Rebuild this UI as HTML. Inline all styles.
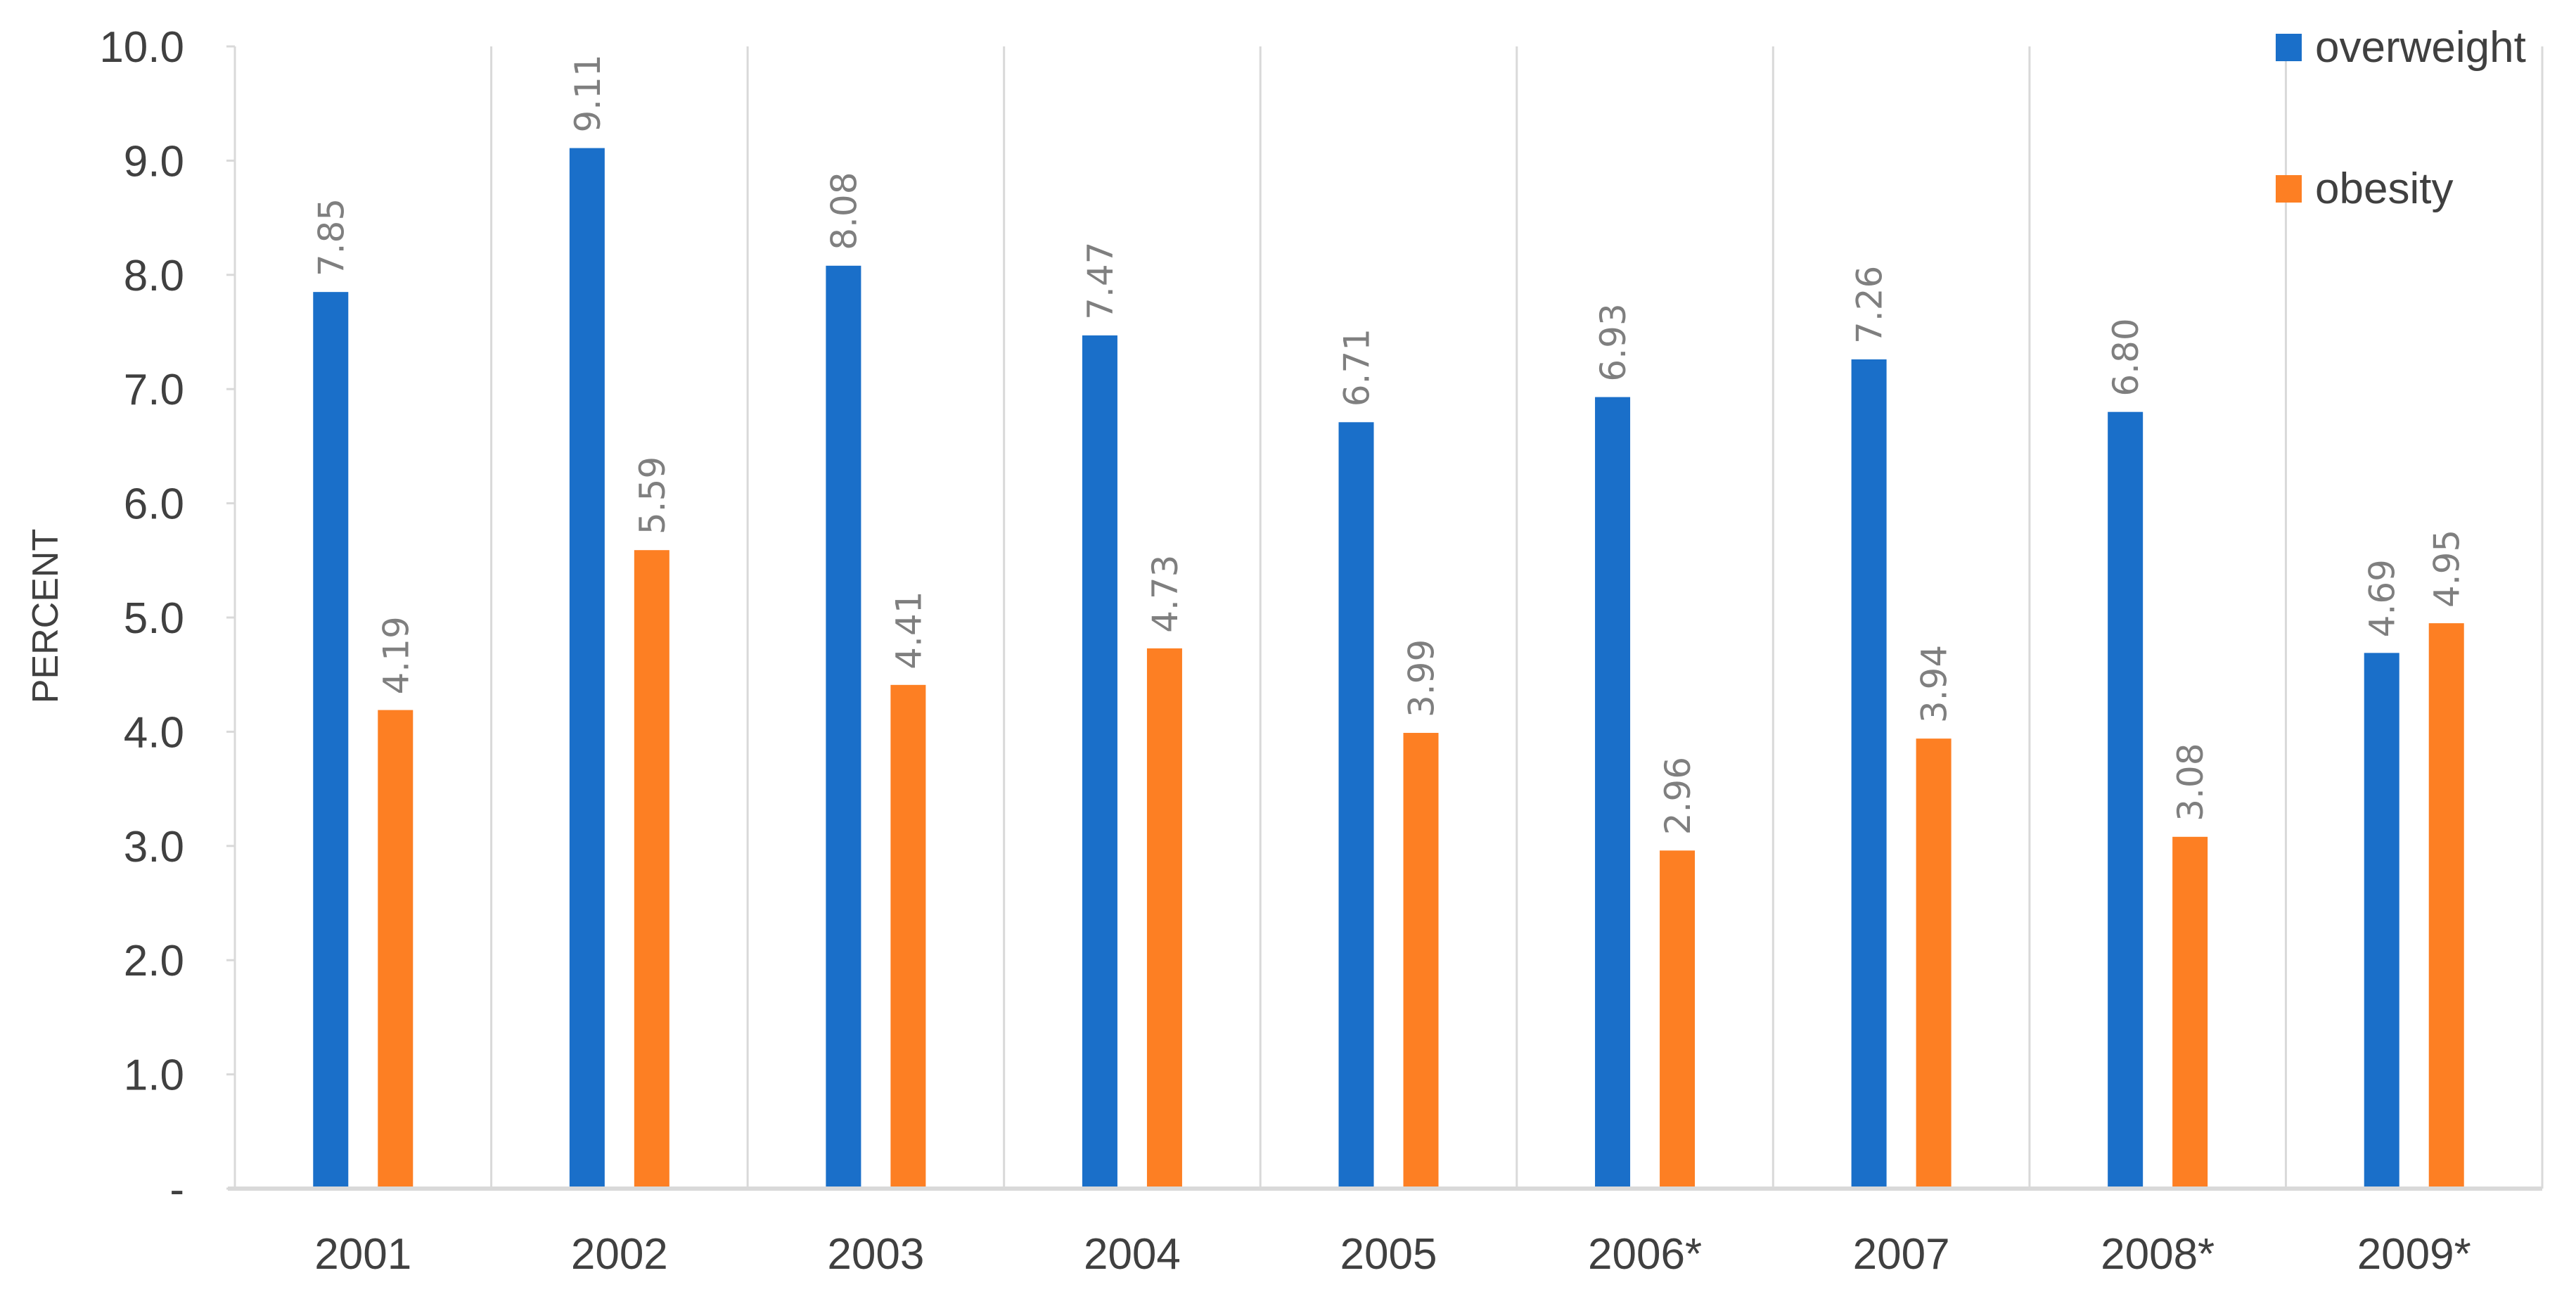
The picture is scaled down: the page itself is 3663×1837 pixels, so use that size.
<!DOCTYPE html>
<html><head><meta charset="utf-8">
<style>
html,body{margin:0;padding:0;background:#fff;}
svg{display:block;}
</style></head>
<body>
<svg id="chart" width="3663" height="1837" viewBox="0 0 3663 1837" xmlns="http://www.w3.org/2000/svg">
<g id="grid"></g>
<g id="yaxis"></g>
<g id="bars"></g>
<g id="xaxis"></g>
<text x="0" y="0" transform="translate(82,876) rotate(-90)" text-anchor="middle" font-family="Liberation Sans, sans-serif" font-size="52" fill="#404040">PERCENT</text>
<g>
  <g>
    <rect x="3236" y="48" width="37" height="39" fill="#1a6fc9"></rect>
    <text x="3292" y="88" font-family="Liberation Sans, sans-serif" font-size="62" fill="#404040">overweight</text>
  </g>
  <g>
    <rect x="3236" y="249" width="37" height="39" fill="#fd7f23"></rect>
    <text x="3292" y="289" font-family="Liberation Sans, sans-serif" font-size="62" fill="#404040">obesity</text>
  </g>
</g>
</svg>
<script>
const categories = ["2001","2002","2003","2004","2005","2006*","2007","2008*","2009*"];
const overweight = [7.85,9.11,8.08,7.47,6.71,6.93,7.26,6.80,4.69];
const obesity = [4.19,5.59,4.41,4.73,3.99,2.96,3.94,3.08,4.95];
const yTicks = [0,1,2,3,4,5,6,7,8,9,10];
const yTickLabels = ["-","1.0","2.0","3.0","4.0","5.0","6.0","7.0","8.0","9.0","10.0"];

const NS = "http://www.w3.org/2000/svg";
const plotLeft = 334, plotRight = 3615, plotTop = 66, plotBottom = 1690, yMax = 10;
const band = (plotRight - plotLeft) / categories.length;
function yScale(v){ return plotBottom - (v / yMax) * (plotBottom - plotTop); }
function xc(i){ return plotLeft + band * (i + 0.5); }
function mk(tag, attrs, parent){
  const e = document.createElementNS(NS, tag);
  for (const k in attrs) e.setAttribute(k, attrs[k]);
  parent.appendChild(e); return e;
}
const gridG = document.getElementById("grid");
const yaxisG = document.getElementById("yaxis");
const barsG = document.getElementById("bars");
const xaxisG = document.getElementById("xaxis");

for (let i = 0; i <= categories.length; i++) {
  const gx = plotLeft + band * i;
  const l = mk("line", {x1: gx, x2: gx, y1: plotTop, y2: plotBottom, stroke: "#d9d9d9", "stroke-width": 3}, gridG);
  
  
}
yTicks.forEach((t, i) => {
  const tk = mk("line", {x1: plotLeft - 12, x2: plotLeft, y1: yScale(t), y2: yScale(t), stroke: "#d9d9d9", "stroke-width": 3}, yaxisG);
  
  
  const tx = mk("text", {x: 262, y: yScale(t) + 22, "text-anchor": "end", "font-family": "Liberation Sans, sans-serif", "font-size": 62, fill: "#404040"}, yaxisG);
  tx.textContent = yTickLabels[i];
  
  
});
const base = mk("line", {x1: plotLeft - 10, x2: plotRight, y1: plotBottom, y2: plotBottom, stroke: "#d9d9d9", "stroke-width": 6}, xaxisG);



const bw = 50, off = 46;
function drawBar(i, v, color, dx, name){
  const cx = xc(i) + dx;
  const r = mk("rect", {x: cx - bw/2, y: yScale(v), width: bw, height: plotBottom - yScale(v), fill: color}, barsG);
  
  
  const t = mk("text", {x: 0, y: 0, transform: "translate(" + (cx + 18) + "," + (yScale(v) - 22) + ") rotate(-90)", "font-family": "DejaVu Sans, sans-serif", "font-size": 50, fill: "#7f7f7f"}, barsG);
  t.textContent = v.toFixed(2);
  
  
}
categories.forEach((c, i) => {
  drawBar(i, overweight[i], "#1a6fc9", -off, "bar-overweight-" + c.replace("*",""));
  drawBar(i, obesity[i], "#fd7f23", off, "bar-obesity-" + c.replace("*",""));
  const t = mk("text", {x: xc(i), y: 1804, "text-anchor": "middle", "font-family": "Liberation Sans, sans-serif", "font-size": 62, fill: "#404040"}, xaxisG);
  t.textContent = c;
  
  
});
</script>
</body></html>
